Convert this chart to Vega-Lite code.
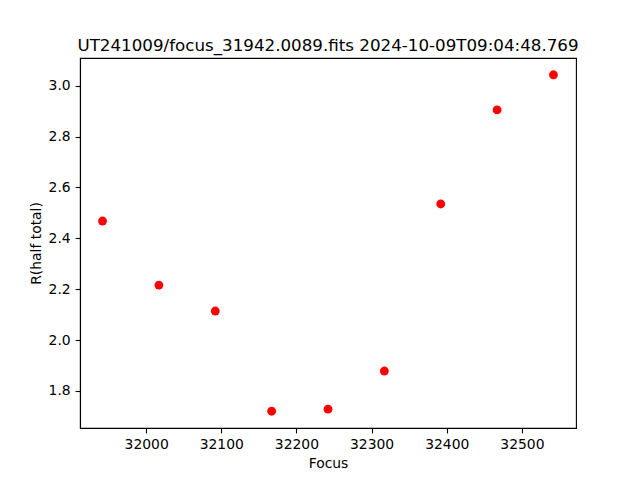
{
  "$schema": "https://vega.github.io/schema/vega-lite/v6.json",
  "autosize": "none",
  "width": 496,
  "height": 370,
  "padding": {"left": 80, "top": 58, "right": 64, "bottom": 52},
  "background": "white",
  "title": {
    "text": "UT241009/focus_31942.0089.fits 2024-10-09T09:04:48.769",
    "font": "DejaVu Sans",
    "fontSize": 16.7,
    "fontWeight": "normal",
    "color": "black",
    "anchor": "middle",
    "baseline": "bottom",
    "offset": -14
  },
  "data": {
    "values": [
      {"focus": 31942, "r": 2.468},
      {"focus": 32017, "r": 2.216},
      {"focus": 32092, "r": 2.114},
      {"focus": 32167, "r": 1.720},
      {"focus": 32242, "r": 1.728},
      {"focus": 32317, "r": 1.878},
      {"focus": 32392, "r": 2.535},
      {"focus": 32467, "r": 2.905},
      {"focus": 32542, "r": 3.043}
    ]
  },
  "mark": {"type": "point", "filled": true, "color": "#ff0000", "opacity": 1, "size": 78},
  "encoding": {
    "x": {
      "field": "focus",
      "type": "quantitative",
      "title": "Focus",
      "scale": {"domain": [31912, 32572], "nice": false, "zero": false},
      "axis": {"values": [32000, 32100, 32200, 32300, 32400, 32500], "format": "d"}
    },
    "y": {
      "field": "r",
      "type": "quantitative",
      "title": "R(half total)",
      "scale": {"domain": [1.654, 3.109], "nice": false, "zero": false},
      "axis": {"values": [1.8, 2.0, 2.2, 2.4, 2.6, 2.8, 3.0], "format": ".1f"}
    }
  },
  "config": {
    "view": {"stroke": "black", "strokeWidth": 1.1},
    "axis": {
      "grid": false,
      "domainColor": "black",
      "domainWidth": 1.1,
      "tickColor": "black",
      "tickWidth": 1.1,
      "tickSize": 4.9,
      "labelPadding": 4.9,
      "labelFont": "DejaVu Sans",
      "labelFontSize": 13.9,
      "labelColor": "black",
      "titleFont": "DejaVu Sans",
      "titleFontSize": 13.9,
      "titleFontWeight": "normal",
      "titleColor": "black",
      "titlePadding": 5
    }
  }
}
